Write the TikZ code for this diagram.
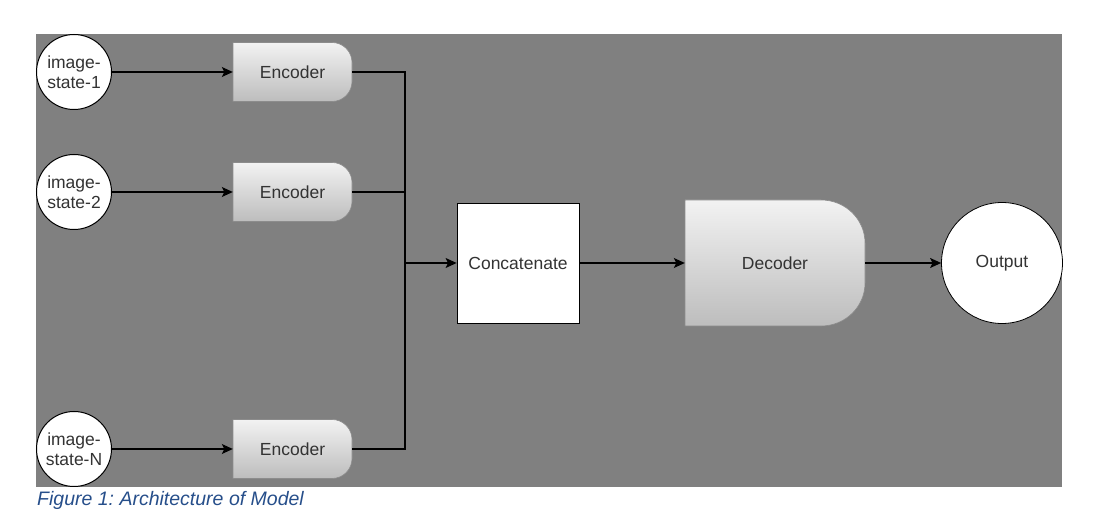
\documentclass[tikz,border=0pt]{standalone}
\usepackage{fontspec}
\setmainfont{Liberation Sans}
\usetikzlibrary{arrows.meta}
\frenchspacing
\definecolor{bg}{HTML}{808080}
\definecolor{txt}{HTML}{333333}
\definecolor{capblue}{RGB}{38,78,138}
\newcommand\dbox[6]{%
  \shade[dshade] ({#1-#3/2},{#2+#4/2}) -- ({#1+#3/2-#5},{#2+#4/2})
    arc[start angle=90,end angle=0,x radius=#5,y radius=#6]
    -- ({#1+#3/2},{#2-#4/2+#6})
    arc[start angle=0,end angle=-90,x radius=#5,y radius=#6]
    -- ({#1-#3/2},{#2-#4/2}) -- cycle;}
\begin{document}
\begin{tikzpicture}[x=1pt,y=1pt,
  font=\fontsize{17.5}{20}\selectfont,
  dshade/.style={top color=white!95!black, bottom color=white!74!black, draw=white!55!black, line width=0.6pt},
  instate/.style={circle, draw=black, fill=white, line width=1pt, minimum size=75pt, inner sep=0pt, align=center, text=txt},
  encbox/.style={rectangle, minimum width=119pt, minimum height=59pt, inner sep=0pt, text=txt},
  decbox/.style={rectangle, minimum width=180pt, minimum height=126pt, inner sep=0pt, text=txt},
  catbox/.style={rectangle, draw=black, fill=white, line width=0.8pt, minimum width=122pt, minimum height=120pt, inner sep=0pt, text=txt},
  outnode/.style={circle, draw=black, fill=white, line width=0.8pt, minimum size=121pt, inner sep=0pt, text=txt},
  conn/.style={line width=1.1pt, black},
  arr/.style={conn, -{Stealth[length=11pt,width=10pt,inset=2.5pt]}},
  captext/.style={font=\fontsize{19.5}{22}\selectfont\itshape, text=capblue, inner sep=0pt, anchor=base west}
]
\useasboundingbox (0,0) rectangle (1100,519);
\fill[bg] (36,32) rectangle (1062,485);

% shaded shapes
\dbox{292.5}{447}{119}{59}{20}{20}
\dbox{292.5}{327}{119}{59}{20}{20}
\dbox{292.5}{70}{119}{59}{20}{20}
\dbox{775}{256}{180}{126}{44}{43}

% nodes
\node[instate] (s1) at (74,447) {image-\\state-1};
\node[instate] (s2) at (74,327) {image-\\state-2};
\node[instate] (sN) at (74,70) {image-\\state-N};
\node[encbox] (e1) at (292.5,447) {Encoder};
\node[encbox] (e2) at (292.5,327) {Encoder};
\node[encbox] (eN) at (292.5,70) {Encoder};
\node[catbox] (cat) at (518,256) {Concatenate};
\node[decbox] (dec) at (775,256) {Decoder};
\node[outnode] (out) at (1002,256) {Output};
\coordinate (jm) at (405,256);

% connectors
\draw[arr] (s1.east) -- (e1.west);
\draw[arr] (s2.east) -- (e2.west);
\draw[arr] (sN.east) -- (eN.west);
\draw[conn] (e1.east) -| (jm);
\draw[conn] (e2.east) -| (jm);
\draw[conn] (eN.east) -| (jm);
\draw[arr] (jm) -- (cat.west);
\draw[arr] (cat.east) -- (dec.west);
\draw[arr] (dec.east) -- (out.west);

\node[captext] (cap) at (37,13) {Figure 1: Architecture of Model};
\end{tikzpicture}
\end{document}
